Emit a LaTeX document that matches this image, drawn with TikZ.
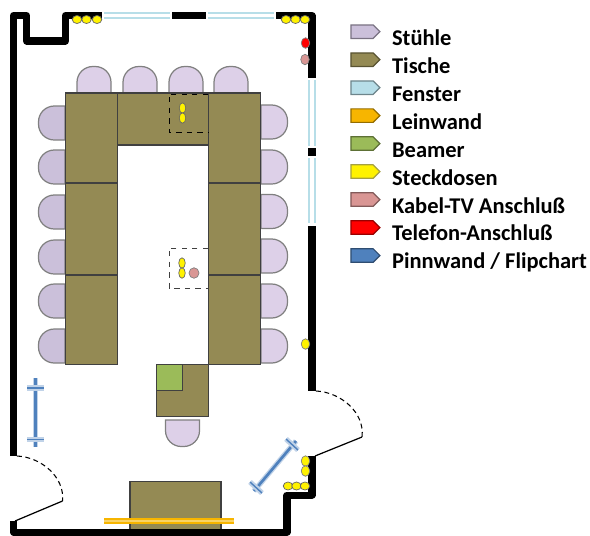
\documentclass[tikz,border=0pt]{standalone}
\usepackage{fontspec}
\setmainfont{Carlito}
\usepackage{xcolor}
\usetikzlibrary{positioning, shapes.geometric, shapes.symbols}

\definecolor{chairc}{HTML}{DDD0E8}
\definecolor{chaird}{HTML}{CBC0DA}
\definecolor{tablec}{HTML}{948A54}
\definecolor{windowc}{HTML}{B7DEE8}
\definecolor{screenc}{HTML}{F7B500}
\definecolor{beamerc}{HTML}{9BBB59}
\definecolor{cablec}{HTML}{D99694}
\definecolor{boardc}{HTML}{4F81BD}

\tikzset{
	wall/.style={line width=4pt, line join=round},
	window/.style={draw=windowc, line width=1.1pt, double=white, double distance=1.8pt},
	doorswing/.style={dash pattern=on 2.8pt off 2pt, line width=.6pt},
	desk/.style={draw=black!75, fill=tablec, line width=.6pt, inner sep=0pt, outer sep=0pt},
	socketh/.style={ellipse, draw=black!60, fill=yellow, line width=.4pt, inner sep=0pt, minimum width=.19cm, minimum height=.16cm},
	socketv/.style={ellipse, draw=black!60, fill=yellow, line width=.4pt, inner sep=0pt, minimum width=.13cm, minimum height=.21cm},
	outlet/.style={ellipse, draw=black!50, fill=#1, line width=.4pt, inner sep=0pt, minimum width=.17cm, minimum height=.21cm},
	legendkey/.style={signal, signal to=east, signal pointer angle=90, draw=#1!60!black, fill=#1, line width=.7pt, inner sep=0pt, minimum width=.58cm, minimum height=.27cm},
	legendtext/.style={font=\fontsize{12.8}{14}\bfseries, inner sep=0pt, anchor=west, text height=1.5ex, text depth=.2ex},
	board/.style={draw=boardc, line width=1.5pt, preaction={draw=boardc!35, line width=3pt}},
	pics/chair/.style={code={
		\draw[draw=black!50, fill=#1, line width=.7pt] (-17,0) [rounded corners=9pt] -- (-17,-26.5) -- (17,-26.5) [sharp corners] -- (17,0) -- cycle;
	}},
}

\begin{document}
\begin{tikzpicture}[x=.02cm, y=-.02cm, node distance=0pt]
	\useasboundingbox (0,0) rectangle (590,535);
	% chairs
	\pic at (94,93) {chair=chairc};
	\pic at (140,93) {chair=chairc};
	\pic at (186,93) {chair=chairc};
	\pic at (231,93) {chair=chairc};
	\pic[rotate=90] at (65,123) {chair=chaird};
	\pic[rotate=90] at (65,167) {chair=chaird};
	\pic[rotate=90] at (65,212) {chair=chaird};
	\pic[rotate=90] at (65,257) {chair=chaird};
	\pic[rotate=90] at (65,301) {chair=chaird};
	\pic[rotate=90] at (65,346) {chair=chaird};
	\pic[rotate=-90] at (261,122) {chair=chairc};
	\pic[rotate=-90] at (261,167) {chair=chairc};
	\pic[rotate=-90] at (261,211.5) {chair=chairc};
	\pic[rotate=-90] at (261,256) {chair=chairc};
	\pic[rotate=-90] at (261,301) {chair=chairc};
	\pic[rotate=-90] at (261,346) {chair=chairc};
	\pic[rotate=180] at (182.5,420) {chair=chairc};
	% tables
	\node[desk, minimum width=1.04cm, minimum height=1.8cm, anchor=north west] (deskl1) at (65.5,93) {};
	\node[desk, minimum width=1.04cm, minimum height=1.84cm, below=of deskl1] (deskl2) {};
	\node[desk, minimum width=1.04cm, minimum height=1.8cm, below=of deskl2] (deskl3) {};
	\node[desk, minimum width=1.82cm, minimum height=1.04cm, anchor=north west] (deskm) at (deskl1.north east) {};
	\node[desk, minimum width=1.04cm, minimum height=1.8cm, anchor=north west] (deskr1) at (deskm.north east) {};
	\node[desk, minimum width=1.04cm, minimum height=1.84cm, below=of deskr1] (deskr2) {};
	\node[desk, minimum width=1.04cm, minimum height=1.8cm, below=of deskr2] (deskr3) {};
	\node[desk, minimum width=1.04cm, minimum height=1.04cm, anchor=north east] (deskb) at (deskr3.south west) {};
	\node[desk, fill=beamerc, minimum width=.52cm, minimum height=.52cm, anchor=north west] (beamer) at (deskb.north west) {};
	\node[desk, minimum width=1.82cm, minimum height=1.01cm, anchor=north west] (deskf) at (130,481.5) {};
	\draw[draw=screenc, line width=1.1pt, double=screenc!60, double distance=1.1pt] (104,521) coordinate (scr1) -- (234,521) coordinate (scr2);
	% walls
	\draw[wall] (13.5,456) -- (13.5,15.5) -- (26.5,15.5) -- (26.5,41) -- (65.5,41) -- (65.5,15.5) -- (102,15.5);
	\draw[wall] (172,15.5) -- (206,15.5);
	\draw[wall] (276,15.5) -- (312,15.5) -- (312,78);
	\draw[wall] (312,148) -- (312,156);
	\draw[wall] (312,226) -- (312,391);
	\draw[wall] (13.5,521) -- (13.5,532) -- (287,532) -- (287,495) -- (312,495) -- (312,456);
	% windows
	\draw[window] (104,15.5) -- (170,15.5);
	\draw[window] (208,15.5) -- (274,15.5);
	\draw[window] (312,80) -- (312,146);
	\draw[window] (312,158) -- (312,223);
	% doors
	\draw[doorswing] (316,391) .. controls (340,392) and (365,412) .. (362,437);
	\draw[line width=.7pt] (362,437) -- (315,456);
	\draw[doorswing] (17,456) .. controls (41,457) and (65,477) .. (62.5,501);
	\draw[line width=.7pt] (62.5,501) -- (15,521);
	% dashed floor boxes
	\draw[dashed, line width=.5pt] (208,94) -- (169,94) -- (169,132) -- (208,132);
	\draw[dashed, line width=.5pt, draw=black!75] (208,248) -- (169,248) -- (169,288) -- (208,288);
	% sockets
	\node[socketh] (st1) at (77,19.5) {};
	\node[socketh] (st2) at (86.5,19.5) {};
	\node[socketh] (st3) at (97,19.5) {};
	\node[socketh] (st4) at (286,19.5) {};
	\node[socketh] (st5) at (295.5,19.5) {};
	\node[socketh] (st6) at (305,19.5) {};
	\node[socketv] (sd1) at (182.5,108) {};
	\node[socketv] (sd2) at (182.5,118) {};
	\node[socketv] (sf1) at (182,263) {};
	\node[socketv] (sf2) at (182,273) {};
	\node[outlet=yellow] (sw1) at (305.5,344) {};
	\node[socketh] (sb1) at (288,486) {};
	\node[socketh] (sb2) at (296.5,486) {};
	\node[socketh] (sb3) at (305,486) {};
	\node[outlet=yellow] (sb4) at (305.5,461) {};
	\node[outlet=yellow] (sb5) at (305.5,471) {};
	\node[outlet=red] (phone) at (305.5,43) {};
	\node[outlet=cablec] (cable1) at (305,59.5) {};
	\node[outlet=cablec, minimum width=.2cm] (cable2) at (194,273) {};
	% boards
	\draw[board] (35.5,378) -- (35.5,447);
	\draw[board, line width=.8pt, preaction={draw=none}] (27,388) -- (44,388) (27,439.5) -- (44,439.5);
	\draw[board] (254,491) -- (296,441);
	\draw[board, line width=.8pt, preaction={draw=none}] (250,482) -- (262,493) (286,439) -- (298,450);
	% legend
	\node[legendkey=chaird] (key1) at (362,31.7) {};
	\node[legendkey=tablec, below=.265cm of key1] (key2) {};
	\node[legendkey=windowc, below=.265cm of key2] (key3) {};
	\node[legendkey=screenc, below=.265cm of key3] (key4) {};
	\node[legendkey=beamerc, below=.265cm of key4] (key5) {};
	\node[legendkey=yellow, below=.265cm of key5] (key6) {};
	\node[legendkey=cablec, below=.265cm of key6] (key7) {};
	\node[legendkey=red, below=.265cm of key7] (key8) {};
	\node[legendkey=boardc, below=.265cm of key8] (key9) {};
	\node[legendtext] (txt1) at ([xshift=.22cm, yshift=-.16cm]key1.east) {Stühle};
	\node[legendtext] (txt2) at ([xshift=.22cm, yshift=-.16cm]key2.east) {Tische};
	\node[legendtext] (txt3) at ([xshift=.22cm, yshift=-.16cm]key3.east) {Fenster};
	\node[legendtext] (txt4) at ([xshift=.22cm, yshift=-.16cm]key4.east) {Leinwand};
	\node[legendtext] (txt5) at ([xshift=.22cm, yshift=-.16cm]key5.east) {Beamer};
	\node[legendtext] (txt6) at ([xshift=.22cm, yshift=-.16cm]key6.east) {Steckdosen};
	\node[legendtext] (txt7) at ([xshift=.22cm, yshift=-.16cm]key7.east) {Kabel-TV Anschluß};
	\node[legendtext] (txt8) at ([xshift=.22cm, yshift=-.16cm]key8.east) {Telefon-Anschluß};
	\node[legendtext] (txt9) at ([xshift=.22cm, yshift=-.16cm]key9.east) {Pinnwand / Flipchart};
\end{tikzpicture}
\end{document}
